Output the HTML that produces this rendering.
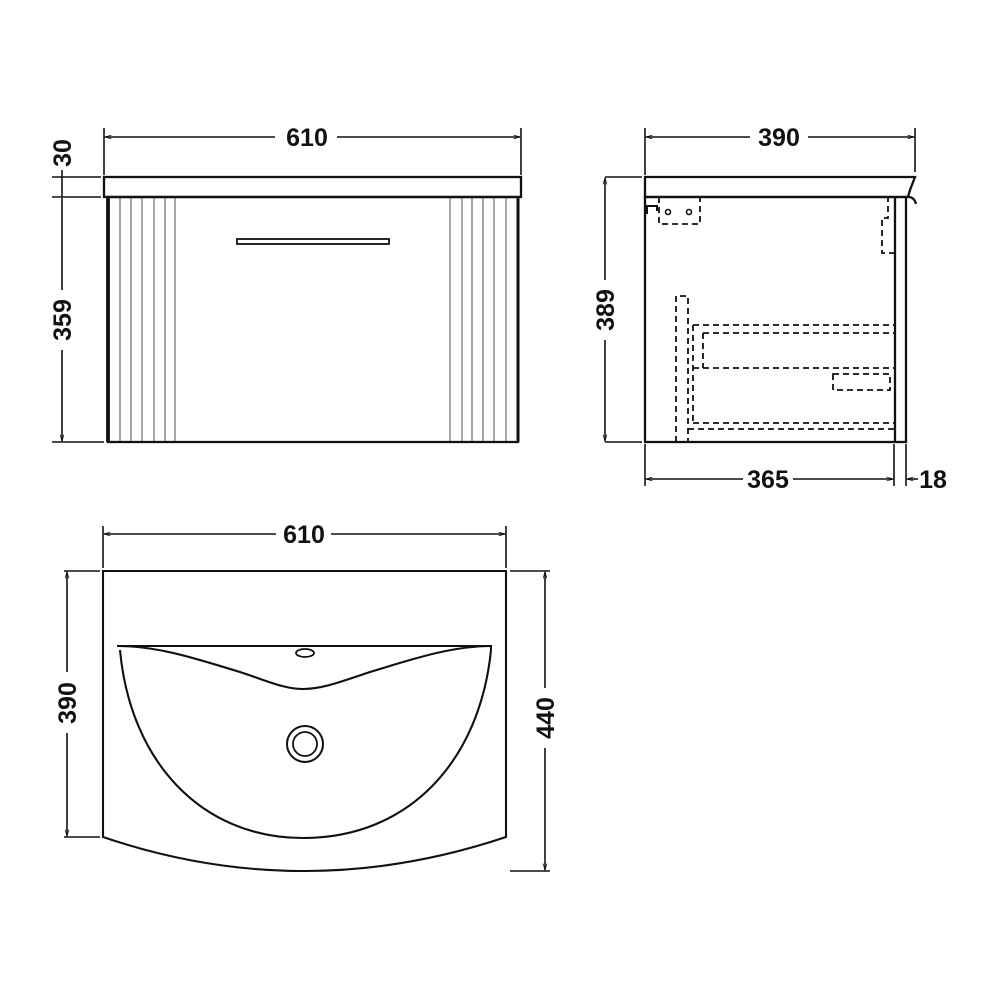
<!DOCTYPE html>
<html><head><meta charset="utf-8"><style>
html,body{margin:0;padding:0;background:#fff;}
svg{display:block;}
text{font-family:"Liberation Sans",sans-serif;font-weight:bold;font-size:25px;fill:#111;}
</style></head><body>
<svg width="1000" height="1000" viewBox="0 0 1000 1000" xmlns="http://www.w3.org/2000/svg">
<defs>
<marker id="a" viewBox="0 0 10 10" refX="10" refY="5" markerWidth="6" markerHeight="4" orient="auto-start-reverse"><path d="M0,2 L10,5 L0,8" fill="none" stroke="#111" stroke-width="1.2"/></marker>
</defs>
<g stroke="#111" fill="none" stroke-width="1.6">
<!-- FRONT VIEW -->
<line x1="104" y1="128" x2="104" y2="175"/>
<line x1="521" y1="128" x2="521" y2="175"/>
<line x1="105" y1="137" x2="275" y2="137" marker-start="url(#a)"/>
<line x1="337" y1="137" x2="520" y2="137" marker-end="url(#a)"/>
<rect x="104" y="177" width="417" height="20" stroke-width="2.3"/>
<rect x="108" y="197" width="410" height="245" stroke-width="2.3"/>
<line x1="108" y1="197" x2="108" y2="442" stroke-width="3.8"/>
<line x1="518" y1="197" x2="518" y2="442" stroke-width="3"/>
<g stroke="#777" stroke-width="1.3">
<line x1="120" y1="198" x2="120" y2="441"/><line x1="131" y1="198" x2="131" y2="441"/>
<line x1="142" y1="198" x2="142" y2="441"/><line x1="154" y1="198" x2="154" y2="441"/>
<line x1="165" y1="198" x2="165" y2="441"/><line x1="175" y1="198" x2="175" y2="441"/>
<line x1="450" y1="198" x2="450" y2="441"/><line x1="462" y1="198" x2="462" y2="441"/>
<line x1="472" y1="198" x2="472" y2="441"/><line x1="483" y1="198" x2="483" y2="441"/>
<line x1="494" y1="198" x2="494" y2="441"/><line x1="506" y1="198" x2="506" y2="441"/>
</g>
<rect x="237" y="239" width="152" height="5" stroke-width="1.8"/>
<line x1="52" y1="177" x2="101" y2="177"/>
<line x1="52" y1="197" x2="101" y2="197"/>
<line x1="52" y1="442" x2="104" y2="442"/>
<line x1="62" y1="170" x2="62" y2="197"/>
<line x1="62" y1="198" x2="62" y2="290"/>
<line x1="62" y1="350" x2="62" y2="441" marker-end="url(#a)"/>

<!-- SIDE VIEW -->
<line x1="645" y1="128" x2="645" y2="175"/>
<line x1="915" y1="128" x2="915" y2="172"/>
<line x1="646" y1="137" x2="750" y2="137" marker-start="url(#a)"/>
<line x1="808" y1="137" x2="914" y2="137" marker-end="url(#a)"/>
<path d="M645,177 L915,177 L910,190 L908,197 L645,197 Z" stroke-width="2.3"/>
<path d="M906,197 Q914,196 916,204" stroke-width="2.3"/>
<rect x="645" y="197" width="261" height="245" stroke-width="2.3"/>
<line x1="895" y1="197" x2="895" y2="442" stroke-width="2.3"/>
<line x1="605" y1="177" x2="642" y2="177"/>
<line x1="605" y1="442" x2="642" y2="442"/>
<line x1="605" y1="178" x2="605" y2="280" marker-start="url(#a)"/>
<line x1="605" y1="340" x2="605" y2="441" marker-end="url(#a)"/>
<g stroke-dasharray="6,4" stroke-width="1.8">
<path d="M659,197 L659,224 L700,224 L700,197"/>
<path d="M895,253 L882,253 L882,218 L888,218 L888,197"/>
<path d="M676,442 L676,296 L688,296 L688,442"/>
<line x1="693" y1="325" x2="894" y2="325"/>
<line x1="703" y1="333" x2="894" y2="333"/>
<line x1="693" y1="368" x2="894" y2="368"/>
<line x1="693" y1="423" x2="894" y2="423"/>
<line x1="688" y1="429" x2="894" y2="429"/>
<line x1="693" y1="325" x2="693" y2="423"/>
<line x1="703" y1="333" x2="703" y2="368"/>
<rect x="833" y="374" width="57" height="16"/>
</g>
<path d="M647,214 L647,206 L657,206 L657,211" stroke-width="2"/>
<circle cx="668" cy="212" r="2.5" stroke-width="1.6"/>
<circle cx="689" cy="212" r="2.5" stroke-width="1.6"/>
<line x1="645" y1="444" x2="645" y2="486"/>
<line x1="894" y1="444" x2="894" y2="486"/>
<line x1="906" y1="444" x2="906" y2="486"/>
<line x1="646" y1="479" x2="743" y2="479" marker-start="url(#a)"/>
<line x1="793" y1="479" x2="893" y2="479" marker-end="url(#a)"/>
<line x1="907" y1="479" x2="918" y2="479" marker-start="url(#a)"/>

<!-- BASIN -->
<line x1="103" y1="526" x2="103" y2="568"/>
<line x1="506" y1="526" x2="506" y2="568"/>
<line x1="104" y1="534" x2="276" y2="534" marker-start="url(#a)"/>
<line x1="331" y1="534" x2="505" y2="534" marker-end="url(#a)"/>
<path d="M103,571 L506,571 L506,837 Q303,905 103,837 Z" stroke-width="2.1"/>
<line x1="64" y1="571" x2="100" y2="571"/>
<line x1="64" y1="837" x2="100" y2="837"/>
<line x1="67" y1="572" x2="67" y2="672" marker-start="url(#a)"/>
<line x1="67" y1="733" x2="67" y2="836" marker-end="url(#a)"/>
<line x1="510" y1="571" x2="550" y2="571"/>
<line x1="510" y1="871" x2="550" y2="871"/>
<line x1="545" y1="572" x2="545" y2="688" marker-start="url(#a)"/>
<line x1="545" y1="748" x2="545" y2="870" marker-end="url(#a)"/>
<line x1="117" y1="646" x2="492" y2="646" stroke-width="2.1"/>
<path d="M117,646 C160,646 200,660 240,672 C270,682 285,689 303,689 C322,689 340,682 370,672 C410,660 450,646 492,646" stroke-width="2.1"/>
<path d="M120,650 C130,760 200,838 303,838 C410,838 480,760 491,650" stroke-width="2.1"/>
<line x1="491" y1="646" x2="491" y2="650" stroke-width="2.1"/>
<ellipse cx="305" cy="653" rx="9" ry="4" stroke-width="1.8"/>
<circle cx="305" cy="744" r="18" stroke-width="2"/>
<circle cx="305" cy="744" r="12" stroke-width="1.8"/>
</g>
<g>
<text x="307" y="146" text-anchor="middle">610</text>
<text x="779" y="146" text-anchor="middle">390</text>
<text x="768" y="488" text-anchor="middle">365</text>
<text x="933" y="488" text-anchor="middle">18</text>
<text x="304" y="543" text-anchor="middle">610</text>
<text transform="translate(71,153) rotate(-90)" text-anchor="middle">30</text>
<text transform="translate(71,320) rotate(-90)" text-anchor="middle">359</text>
<text transform="translate(614,310) rotate(-90)" text-anchor="middle">389</text>
<text transform="translate(76,703) rotate(-90)" text-anchor="middle">390</text>
<text transform="translate(554,718) rotate(-90)" text-anchor="middle">440</text>
</g>
</svg>
</body></html>
